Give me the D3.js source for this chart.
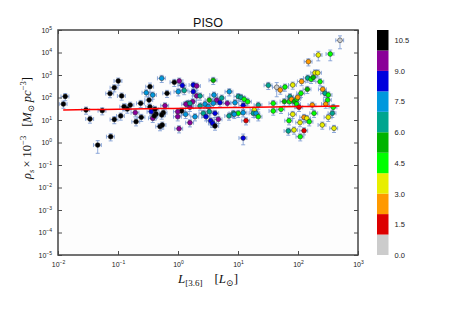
<!DOCTYPE html>
<html>
<head>
<meta charset="utf-8">
<script src="https://cdn.jsdelivr.net/npm/d3@7"></script>
<style>
  body { margin: 0; background: #fff; }
  svg { display: block; }
  .tick text { font-family: "Liberation Sans", Arial, sans-serif; }
</style>
</head>
<body>
<div id="chart"></div>
<script>
const width = 450;
const height = 309;
const plot = { left: 58, right: 358, top: 30, bottom: 255 };

// L_[3.6] (Lsun), rho_s x 1e-3 (Msun/pc^3), Hubble type
const lum = [
  0.0123, 0.0132, 0.0293, 0.0341, 0.0459, 0.0547, 0.0736, 0.0868, 0.101, 0.0755,
  0.0868, 0.111, 0.115, 0.126, 0.143, 0.160, 0.194, 0.200, 0.239, 0.244,
  0.296, 0.329, 0.341, 0.379, 0.341, 0.359, 0.379, 0.414, 0.43, 0.403,
  0.501, 0.547, 0.535, 0.607, 0.656, 0.867, 1.01, 1.05, 1.18, 1.27,
  1.15, 0.99, 0.99, 1.34, 1.04, 1.45, 1.58, 1.76, 1.8, 1.8,
  2.05, 2.05, 1.92, 1.58, 1.36, 2.33, 2.82, 3.2, 3.33, 3.87,
  4.42, 5.35, 5.0, 3.87, 3.98, 2.33, 6.63, 8.91, 7.16, 10.1,
  11.2, 12.7, 14.5, 12.2, 0.569, 0.535, 2.64, 3.33, 4.14, 2.93,
  4.7, 3.51, 3.79, 4.14, 7.08, 8.35, 10.1, 12.2, 13.6, 12.2,
  8.67, 1.58,
  18.7, 21.8, 18, 20, 21.8, 32, 44.2, 50.7, 60.7, 81.6,
  38.7, 38.7, 52.1, 59.2, 71.6, 73.6, 78, 87.4, 96.2, 95,
  98.9, 112, 104, 115, 143, 145, 165, 180, 233, 258,
  282, 320, 312, 290, 173, 185, 387, 373, 320, 70.8,
  81.6, 126, 140, 154, 108, 68.9, 85.8, 126, 109, 254,
  398, 149, 218, 345, 501, 192, 213
];
const rho = [
  51, 111, 27.8, 11.1, 0.77, 26, 150, 273, 541, 1.81,
  10.5, 15.1, 117, 39, 30.8, 46, 21.1, 8.4, 55, 13.2,
  163, 77, 302, 129, 37.8, 23.4, 11.9, 29.9, 18.5, 15.1,
  5.1, 6.0, 713, 43, 154, 474, 181, 541, 341, 205,
  25.1, 23.4, 14, 17.9, 4.1, 55, 36.7, 65, 359, 181,
  324, 117, 14, 7.6, 50, 41.9, 51, 39, 77, 581,
  77, 95, 59, 55, 129, 117, 55, 59, 181, 111,
  102, 83, 65, 44, 21.1, 16.7, 19.9, 23.4, 19.9, 14,
  10.7, 9.3, 7.1, 5.4, 15.1, 19.9, 19.9, 21.1, 9.3, 1.58,
  17.9, 55,
  27.8, 46, 19.9, 19.9, 14, 348, 284, 215, 293, 359,
  55, 25.1, 29.9, 66, 65, 109, 83, 66, 86, 51,
  102, 154, 36.7, 514, 231, 736, 644, 790, 504, 231,
  154, 129, 77, 51, 46, 19.9, 36.7, 19.9, 13.2, 9.3,
  17.9, 13.2, 11.9, 8.4, 7.7, 3.24, 3.6, 3.35, 1.81, 6.0,
  4.28, 3900, 7740, 8570, 34800, 1250, 1250
];
const hubbleType = [
  10, 10, 10, 10, 10, 10, 10, 10, 10, 10,
  10, 10, 10, 10, 10, 10, 9, 10, 10, 10,
  7, 10, 10, 7, 10, 8, 9, 10, 10, 10,
  10, 10, 7, 9, 10, 10, 7, 9, 8, 6,
  10, 9, 9, 7, 9, 6, 9, 9, 8, 8,
  9, 9, 7, 9, 9, 6, 7, 7, 5, 5,
  9, 6, 8, 7, 7, 6, 9, 7, 7, 6,
  6, 4, 4, 8, 10, 10, 6, 6, 8, 8,
  9, 8, 8, 10, 6, 6, 4, 7, 1, 8,
  7, 6,
  3, 6, 6, 7, 4, 6, 0, 2, 4, 3,
  4, 4, 4, 5, 4, 6, 2, 5, 4, 4,
  2, 4, 1, 2, 5, 6, 4, 5, 4, 2,
  6, 4, 4, 2, 2, 4, 4, 6, 3, 4,
  3, 2, 3, 4, 3, 6, 3, 1, 4, 3,
  3, 2, 3, 4, 0, 3, 3
];
// relative errors: default, plus the few large ones [index, fraction]
const lumErrFrac = 0.15;
const rhoErrFrac = 0.35;
const largeRhoErr = [[4, 0.57], [22, 0.45], [89, 0.5], [98, 0.62], [144, 0.45], [145, 0.5], [146, 0.58]];

// power-law fit  rho = fitA * L^fitB
const fitA = 33;
const fitB = 0.0387;
const fitRange = [0.0122, 490];

const cbarColors = ["#cccccc", "#dd0000", "#ff9900", "#e8ee00", "#00ff00", "#00b400",
  "#00a58f", "#0098dd", "#0000dd", "#8a0098", "#000000"];
const cbarTicks = [0, 1.5, 3, 4.5, 6, 7.5, 9, 10.5];
const xTicks = [-2, -1, 0, 1, 2, 3];
const yTicks = [-5, -4, -3, -2, -1, 0, 1, 2, 3, 4, 5];

const errMap = new Map(largeRhoErr);
const data = lum.map((L, i) => ({
  L, rho: rho[i], t: hubbleType[i], ef: errMap.get(i) || rhoErrFrac
}));

const svg = d3.select("#chart").append("svg")
  .attr("width", width).attr("height", height)
  .attr("viewBox", [0, 0, width, height]);

const x = d3.scaleLog().domain([1e-2, 1e3]).range([plot.left, plot.right]);
const y = d3.scaleLog().domain([1e-5, 1e5]).range([plot.bottom, plot.top]);
const color = t => cbarColors[Math.min(10, Math.floor(t))];

svg.append("rect")
  .attr("x", plot.left).attr("y", plot.top)
  .attr("width", plot.right - plot.left).attr("height", plot.bottom - plot.top)
  .attr("fill", "#fdfdfd");

// error bars
const eg = svg.append("g")
  .attr("stroke", "#7d9bd4").attr("stroke-width", 1).attr("stroke-opacity", 0.85).attr("fill", "none");
const cap = 2;
data.forEach(d => {
  const cx = x(d.L), cy = y(d.rho);
  const x0 = x(d.L * (1 - lumErrFrac)), x1 = x(d.L * (1 + lumErrFrac));
  const y0 = y(d.rho * (1 - d.ef)), y1 = y(d.rho * (1 + d.ef));
  eg.append("path").attr("d",
    `M${x0},${cy}H${x1}M${x0},${cy - cap}V${cy + cap}M${x1},${cy - cap}V${cy + cap}` +
    `M${cx},${y0}V${y1}M${cx - cap},${y0}H${cx + cap}M${cx - cap},${y1}H${cx + cap}`);
});

svg.append("g").selectAll("circle")
  .data(data)
  .join("circle")
    .attr("cx", d => x(d.L))
    .attr("cy", d => y(d.rho))
    .attr("r", 2.4)
    .attr("fill", d => color(d.t))
    .attr("stroke", "#222")
    .attr("stroke-width", 0.5);

// fit line
const fitL = d3.range(0, 21).map(i => fitRange[0] * Math.pow(fitRange[1] / fitRange[0], i / 20));
svg.append("path")
  .datum(fitL)
  .attr("fill", "none")
  .attr("stroke", "#ff0000")
  .attr("stroke-width", 1.5)
  .attr("d", d3.line().x(L => x(L)).y(L => y(fitA * Math.pow(L, fitB))));

// axes with inward ticks on all sides
function powLabel(sel) {
  sel.each(function(e) {
    const t = d3.select(this).text("");
    t.append("tspan").text("10");
    t.append("tspan").attr("dy", "-0.6em").attr("font-size", 5)
      .text(e < 0 ? "\u2212" + (-e) : e);
  });
}
const xv = xTicks.map(e => 10 ** e);
const yv = yTicks.map(e => 10 ** e);

const gx = svg.append("g").attr("transform", `translate(0,${plot.bottom})`)
  .call(d3.axisBottom(x).tickValues(xv).tickSize(-4).tickPadding(7).tickFormat(""));
gx.selectAll(".tick text").data(xTicks).attr("font-size", 7).attr("fill", "#222").call(powLabel);

const gy = svg.append("g").attr("transform", `translate(${plot.left},0)`)
  .call(d3.axisLeft(y).tickValues(yv).tickSize(-4).tickPadding(6).tickFormat(""));
gy.selectAll(".tick text").data(yTicks).attr("font-size", 7).attr("fill", "#222").call(powLabel);

svg.append("g").attr("transform", `translate(0,${plot.top})`)
  .call(d3.axisTop(x).tickValues(xv).tickSize(-4).tickFormat(""));
svg.append("g").attr("transform", `translate(${plot.right},0)`)
  .call(d3.axisRight(y).tickValues(yv).tickSize(-4).tickFormat(""));

svg.selectAll(".domain").remove();
svg.selectAll(".tick line").attr("stroke", "#222").attr("stroke-width", 0.8);
svg.append("rect")
  .attr("x", plot.left).attr("y", plot.top)
  .attr("width", plot.right - plot.left).attr("height", plot.bottom - plot.top)
  .attr("fill", "none").attr("stroke", "#444").attr("stroke-width", 1.5);

// title
svg.append("text")
  .attr("x", (plot.left + plot.right) / 2).attr("y", 26.5)
  .attr("text-anchor", "middle")
  .attr("font-family", "Liberation Sans, Arial, sans-serif")
  .attr("font-size", 12.5)
  .attr("fill", "#111")
  .text("PISO");

// x label
const xl = svg.append("text")
  .attr("x", (plot.left + plot.right) / 2).attr("y", 283)
  .attr("text-anchor", "middle")
  .attr("font-family", "Liberation Serif, DejaVu Serif, serif")
  .attr("font-size", 13).attr("fill", "#111");
xl.append("tspan").attr("font-style", "italic").text("L");
xl.append("tspan").attr("font-size", 9).attr("dy", 3).text("[3.6]");
xl.append("tspan").attr("dy", -3).attr("dx", 12).text("[");
xl.append("tspan").attr("font-style", "italic").text("L");
xl.append("tspan").attr("font-size", 9).attr("dy", 3).text("\u2299");
xl.append("tspan").attr("dy", -3).text("]");

// y label
const yl = svg.append("text")
  .attr("transform", "translate(31,128) rotate(-90)")
  .attr("text-anchor", "middle")
  .attr("font-family", "Liberation Serif, DejaVu Serif, serif")
  .attr("font-size", 12.5).attr("fill", "#111");
yl.append("tspan").attr("font-style", "italic").text("\u03c1");
yl.append("tspan").attr("font-style", "italic").attr("font-size", 8.5).attr("dy", 3).text("s");
yl.append("tspan").attr("dy", -3).attr("dx", 2).text("\u00d7 10");
yl.append("tspan").attr("font-size", 8.5).attr("dy", -5).text("\u22123");
yl.append("tspan").attr("dy", 5).attr("dx", 9).text("[");
yl.append("tspan").attr("font-style", "italic").text("M");
yl.append("tspan").attr("font-size", 8.5).attr("dy", 3).text("\u2299");
yl.append("tspan").attr("font-style", "italic").attr("dy", -3).attr("dx", 3).text("pc");
yl.append("tspan").attr("font-size", 8.5).attr("dy", -5).text("\u22123");
yl.append("tspan").attr("dy", 5).text("]");

// colorbar
const cb = { x: 377, w: 11.5 };
const cy = d3.scaleLinear().domain([0, 11]).range([plot.bottom, plot.top]);
svg.append("g").selectAll("rect")
  .data(cbarColors)
  .join("rect")
    .attr("x", cb.x)
    .attr("y", (c, i) => cy(i + 1))
    .attr("width", cb.w)
    .attr("height", (c, i) => cy(i) - cy(i + 1))
    .attr("fill", c => c);
const gc = svg.append("g").attr("transform", `translate(${cb.x + cb.w},0)`)
  .call(d3.axisRight(cy).tickValues(cbarTicks).tickSize(0).tickPadding(6).tickFormat(d3.format(".1f")));
gc.select(".domain").remove();
gc.selectAll(".tick text").attr("font-size", 7.5).attr("fill", "#222");
</script>
</body>
</html>
